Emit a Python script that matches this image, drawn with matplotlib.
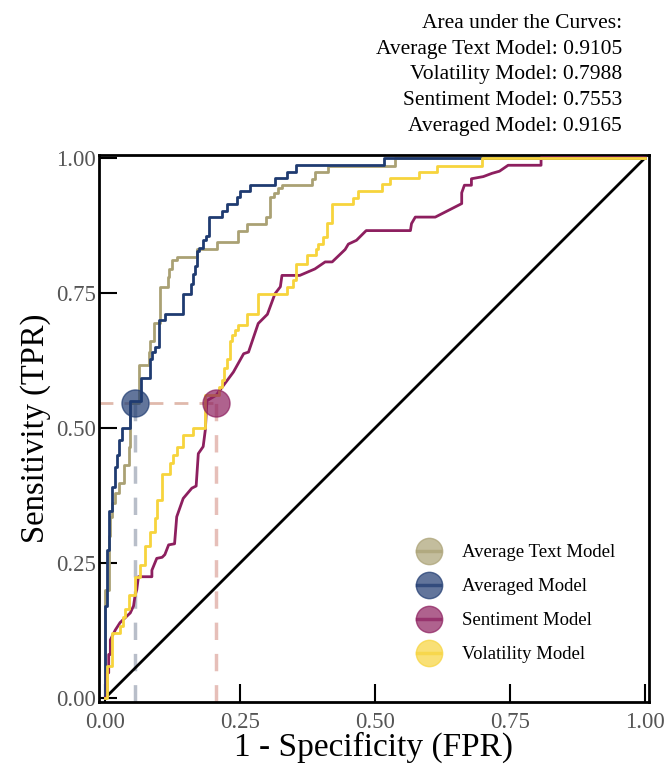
import matplotlib
matplotlib.use("Agg")
import matplotlib.pyplot as plt
from matplotlib.lines import Line2D

plt.rcParams['font.family'] = ['Liberation Serif', 'DejaVu Serif']

# ---------------- data ----------------
models = ["Average Text Model", "Averaged Model", "Sentiment Model", "Volatility Model"]
auc_values = {"Average Text Model": 0.9105, "Volatility Model": 0.7988,
              "Sentiment Model": 0.7553, "Averaged Model": 0.9165}
auc_order = ["Average Text Model", "Volatility Model", "Sentiment Model", "Averaged Model"]

text_fpr = [0, 0, 0.006, 0.006, 0.009, 0.009, 0.012, 0.012, 0.018, 0.018, 0.025, 0.025, 0.034, 0.034,
            0.043, 0.043, 0.046, 0.046, 0.062, 0.062, 0.080, 0.080, 0.083, 0.083, 0.089, 0.089, 0.101, 0.101,
            0.115, 0.115, 0.118, 0.118, 0.124, 0.124, 0.132, 0.132, 0.169, 0.169, 0.206, 0.206, 0.246, 0.246,
            0.262, 0.262, 0.297, 0.297, 0.305, 0.305, 0.313, 0.313, 0.320, 0.320, 0.327, 0.327, 0.382, 0.382,
            0.388, 0.388, 0.413, 0.413, 0.536, 0.536, 1.0]
text_tpr = [0, 0.20, 0.20, 0.30, 0.30, 0.335, 0.335, 0.36, 0.36, 0.379, 0.379, 0.397, 0.397, 0.43,
            0.43, 0.465, 0.465, 0.545, 0.545, 0.616, 0.616, 0.640, 0.640, 0.66, 0.66, 0.693, 0.693, 0.761,
            0.761, 0.779, 0.779, 0.794, 0.794, 0.81, 0.81, 0.817, 0.817, 0.83, 0.83, 0.844, 0.844, 0.865,
            0.865, 0.878, 0.878, 0.89, 0.89, 0.927, 0.927, 0.935, 0.935, 0.943, 0.943, 0.95, 0.95, 0.961,
            0.961, 0.973, 0.973, 0.985, 0.985, 1.0, 1.0]

avg_fpr = [0, 0, 0.003, 0.003, 0.006, 0.006, 0.012, 0.012, 0.018, 0.018, 0.022, 0.022, 0.025, 0.025,
           0.030, 0.030, 0.046, 0.046, 0.066, 0.066, 0.083, 0.083, 0.087, 0.087, 0.092, 0.092, 0.099, 0.099,
           0.111, 0.111, 0.143, 0.143, 0.159, 0.159, 0.162, 0.162, 0.165, 0.165, 0.169, 0.169, 0.174, 0.174,
           0.181, 0.181, 0.186, 0.186, 0.192, 0.192, 0.216, 0.216, 0.225, 0.225, 0.243, 0.243, 0.250, 0.250,
           0.268, 0.268, 0.314, 0.314, 0.336, 0.336, 0.353, 0.353, 0.516, 0.516, 1.0]
avg_tpr = [0, 0.17, 0.17, 0.274, 0.274, 0.345, 0.345, 0.391, 0.391, 0.428, 0.428, 0.45, 0.45, 0.477,
           0.477, 0.499, 0.499, 0.55, 0.55, 0.592, 0.592, 0.628, 0.628, 0.64, 0.64, 0.65, 0.65, 0.699,
           0.699, 0.711, 0.711, 0.747, 0.747, 0.767, 0.767, 0.785, 0.785, 0.80, 0.80, 0.828, 0.828, 0.833,
           0.833, 0.847, 0.847, 0.855, 0.855, 0.89, 0.89, 0.901, 0.901, 0.915, 0.915, 0.927, 0.927, 0.938,
           0.938, 0.95, 0.95, 0.962, 0.962, 0.974, 0.974, 0.986, 0.986, 1.0, 1.0]

sent_fpr = [0, 0.003, 0.003, 0.006, 0.006, 0.009, 0.009, 0.018, 0.027, 0.046, 0.052, 0.055, 0.058, 0.061,
            0.086, 0.086, 0.095, 0.105, 0.110, 0.117, 0.128, 0.132, 0.144, 0.160, 0.168, 0.172, 0.181, 0.185,
            0.188, 0.205, 0.237, 0.256, 0.265, 0.283, 0.290, 0.300, 0.314, 0.324, 0.327, 0.360, 0.388, 0.407,
            0.420, 0.444, 0.450, 0.465, 0.483, 0.565, 0.567, 0.574, 0.611, 0.660, 0.660, 0.665, 0.678, 0.678,
            0.700, 0.716, 0.730, 0.746, 0.807, 0.807, 1.0]
sent_tpr = [0, 0, 0.046, 0.046, 0.08, 0.08, 0.107, 0.125, 0.139, 0.157, 0.17, 0.19, 0.20, 0.224,
            0.224, 0.236, 0.258, 0.26, 0.265, 0.283, 0.285, 0.335, 0.369, 0.388, 0.392, 0.452, 0.465, 0.496,
            0.55, 0.56, 0.603, 0.637, 0.64, 0.693, 0.70, 0.71, 0.748, 0.761, 0.782, 0.782, 0.794, 0.807,
            0.807, 0.830, 0.84, 0.847, 0.865, 0.865, 0.878, 0.89, 0.89, 0.915, 0.935, 0.949, 0.949, 0.961,
            0.965, 0.971, 0.975, 0.986, 0.986, 1.0, 1.0]

vol_fpr = [0, 0.003, 0.003, 0.012, 0.012, 0.027, 0.027, 0.032, 0.032, 0.036, 0.036, 0.043, 0.043, 0.055,
           0.055, 0.064, 0.064, 0.074, 0.074, 0.083, 0.083, 0.092, 0.092, 0.095, 0.095, 0.104, 0.104, 0.120,
           0.120, 0.126, 0.126, 0.132, 0.132, 0.144, 0.144, 0.163, 0.163, 0.185, 0.185, 0.210, 0.210, 0.216,
           0.216, 0.219, 0.219, 0.225, 0.225, 0.230, 0.230, 0.234, 0.234, 0.240, 0.240, 0.246, 0.246, 0.262,
           0.262, 0.283, 0.283, 0.336, 0.336, 0.347, 0.347, 0.353, 0.353, 0.373, 0.373, 0.390, 0.390, 0.393,
           0.393, 0.403, 0.403, 0.410, 0.410, 0.419, 0.419, 0.459, 0.459, 0.467, 0.467, 0.512, 0.512, 0.527,
           0.527, 0.580, 0.580, 0.614, 0.614, 0.697, 0.697, 1.0]
vol_tpr = [0, 0, 0.058, 0.058, 0.12, 0.12, 0.132, 0.132, 0.15, 0.15, 0.165, 0.165, 0.19, 0.19,
           0.224, 0.224, 0.246, 0.246, 0.28, 0.28, 0.307, 0.307, 0.332, 0.332, 0.366, 0.366, 0.415, 0.415,
           0.434, 0.434, 0.449, 0.449, 0.465, 0.465, 0.486, 0.486, 0.499, 0.499, 0.56, 0.56, 0.575, 0.575,
           0.588, 0.588, 0.61, 0.61, 0.628, 0.628, 0.66, 0.66, 0.671, 0.671, 0.68, 0.68, 0.69, 0.69,
           0.711, 0.711, 0.748, 0.748, 0.761, 0.761, 0.773, 0.773, 0.804, 0.804, 0.819, 0.819, 0.83, 0.83,
           0.84, 0.84, 0.854, 0.854, 0.879, 0.879, 0.915, 0.915, 0.926, 0.926, 0.938, 0.938, 0.952, 0.952,
           0.962, 0.962, 0.973, 0.973, 0.985, 0.985, 1.0, 1.0]

# operating points (FPR at matched sensitivity)
op_tpr = 0.545
op_fpr_averaged = 0.055
op_fpr_sentiment = 0.205

x_ticks = [0.0, 0.25, 0.5, 0.75, 1.0]
y_ticks = [0.0, 0.25, 0.5, 0.75, 1.0]
tick_labels = ["0.00", "0.25", "0.50", "0.75", "1.00"]

colors = {"Average Text Model": "#aaa174", "Averaged Model": "#1f3b71",
          "Sentiment Model": "#8d1f5f", "Volatility Model": "#f7d43c"}
curves = {"Average Text Model": (text_fpr, text_tpr), "Averaged Model": (avg_fpr, avg_tpr),
          "Sentiment Model": (sent_fpr, sent_tpr), "Volatility Model": (vol_fpr, vol_tpr)}

# ---------------- figure ----------------
fig = plt.figure(figsize=(6.65, 7.67), dpi=100)
ax = fig.add_axes([99 / 665, 1 - 702 / 767, 550 / 665, 547 / 767])
xl = (-0.012, 1.007)
yl = (-0.008, 1.005)

for m in models:
    fx, fy = curves[m]
    ax.plot(fx, fy, color=colors[m], lw=2.0, zorder=3)

ax.plot([0, 1], [0, 1], color="black", lw=2.0, zorder=2)

# dashed guides
ax.plot([xl[0], op_fpr_sentiment], [op_tpr, op_tpr], ls=(0, (5, 4)), color="#d9a898", lw=2.0, alpha=0.8, zorder=1)
ax.plot([op_fpr_averaged, op_fpr_averaged], [yl[0], op_tpr], ls=(0, (5, 4)), color="#9aa3b3", lw=2.5, alpha=0.7, zorder=1)
ax.plot([op_fpr_sentiment, op_fpr_sentiment], [yl[0], op_tpr], ls=(0, (5, 4)), color="#e0b0a8", lw=2.5, alpha=0.8, zorder=1)

ax.plot([op_fpr_averaged], [op_tpr], marker="o", ms=19.5, color=colors["Averaged Model"], alpha=0.7, zorder=5)
ax.plot([op_fpr_sentiment], [op_tpr], marker="o", ms=19.5, color=colors["Sentiment Model"], alpha=0.7, zorder=5)

ax.set_xlim(*xl)
ax.set_ylim(*yl)
ax.set_xticks(x_ticks)
ax.set_xticklabels(tick_labels)
ax.set_yticks(y_ticks)
ax.set_yticklabels(tick_labels)
ax.tick_params(direction="in", length=13, width=1.5, labelsize=16.5, labelcolor="#555555",
               top=False, right=False)
ax.tick_params(axis="x", pad=7)
ax.tick_params(axis="y", pad=2)
for s in ax.spines.values():
    s.set_linewidth(2.0)

ax.set_xlabel("1 - Specificity (FPR)", fontsize=24, labelpad=-1)
ax.set_ylabel("Sensitivity (TPR)", fontsize=23.5, labelpad=4)

handles = [Line2D([0], [0], color=colors[m], lw=2.5, marker="o", ms=19,
                  markerfacecolor=colors[m], markeredgecolor=colors[m], alpha=0.7)
           for m in models]
ax.legend(handles, models, loc="lower right", bbox_to_anchor=(0.97, 0.04), frameon=False,
          fontsize=13.5, handlelength=1.2, handletextpad=1.2, labelspacing=0.9)

auc_text = "Area under the Curves:\n" + "\n".join(f"{m}: {auc_values[m]:.4f}" for m in auc_order)
fig.text(622 / 665, 1 - 14 / 767, auc_text, ha="right", va="top", fontsize=15.5, linespacing=1.48,
         multialignment="right")

fig.savefig("out.png", dpi=100)
